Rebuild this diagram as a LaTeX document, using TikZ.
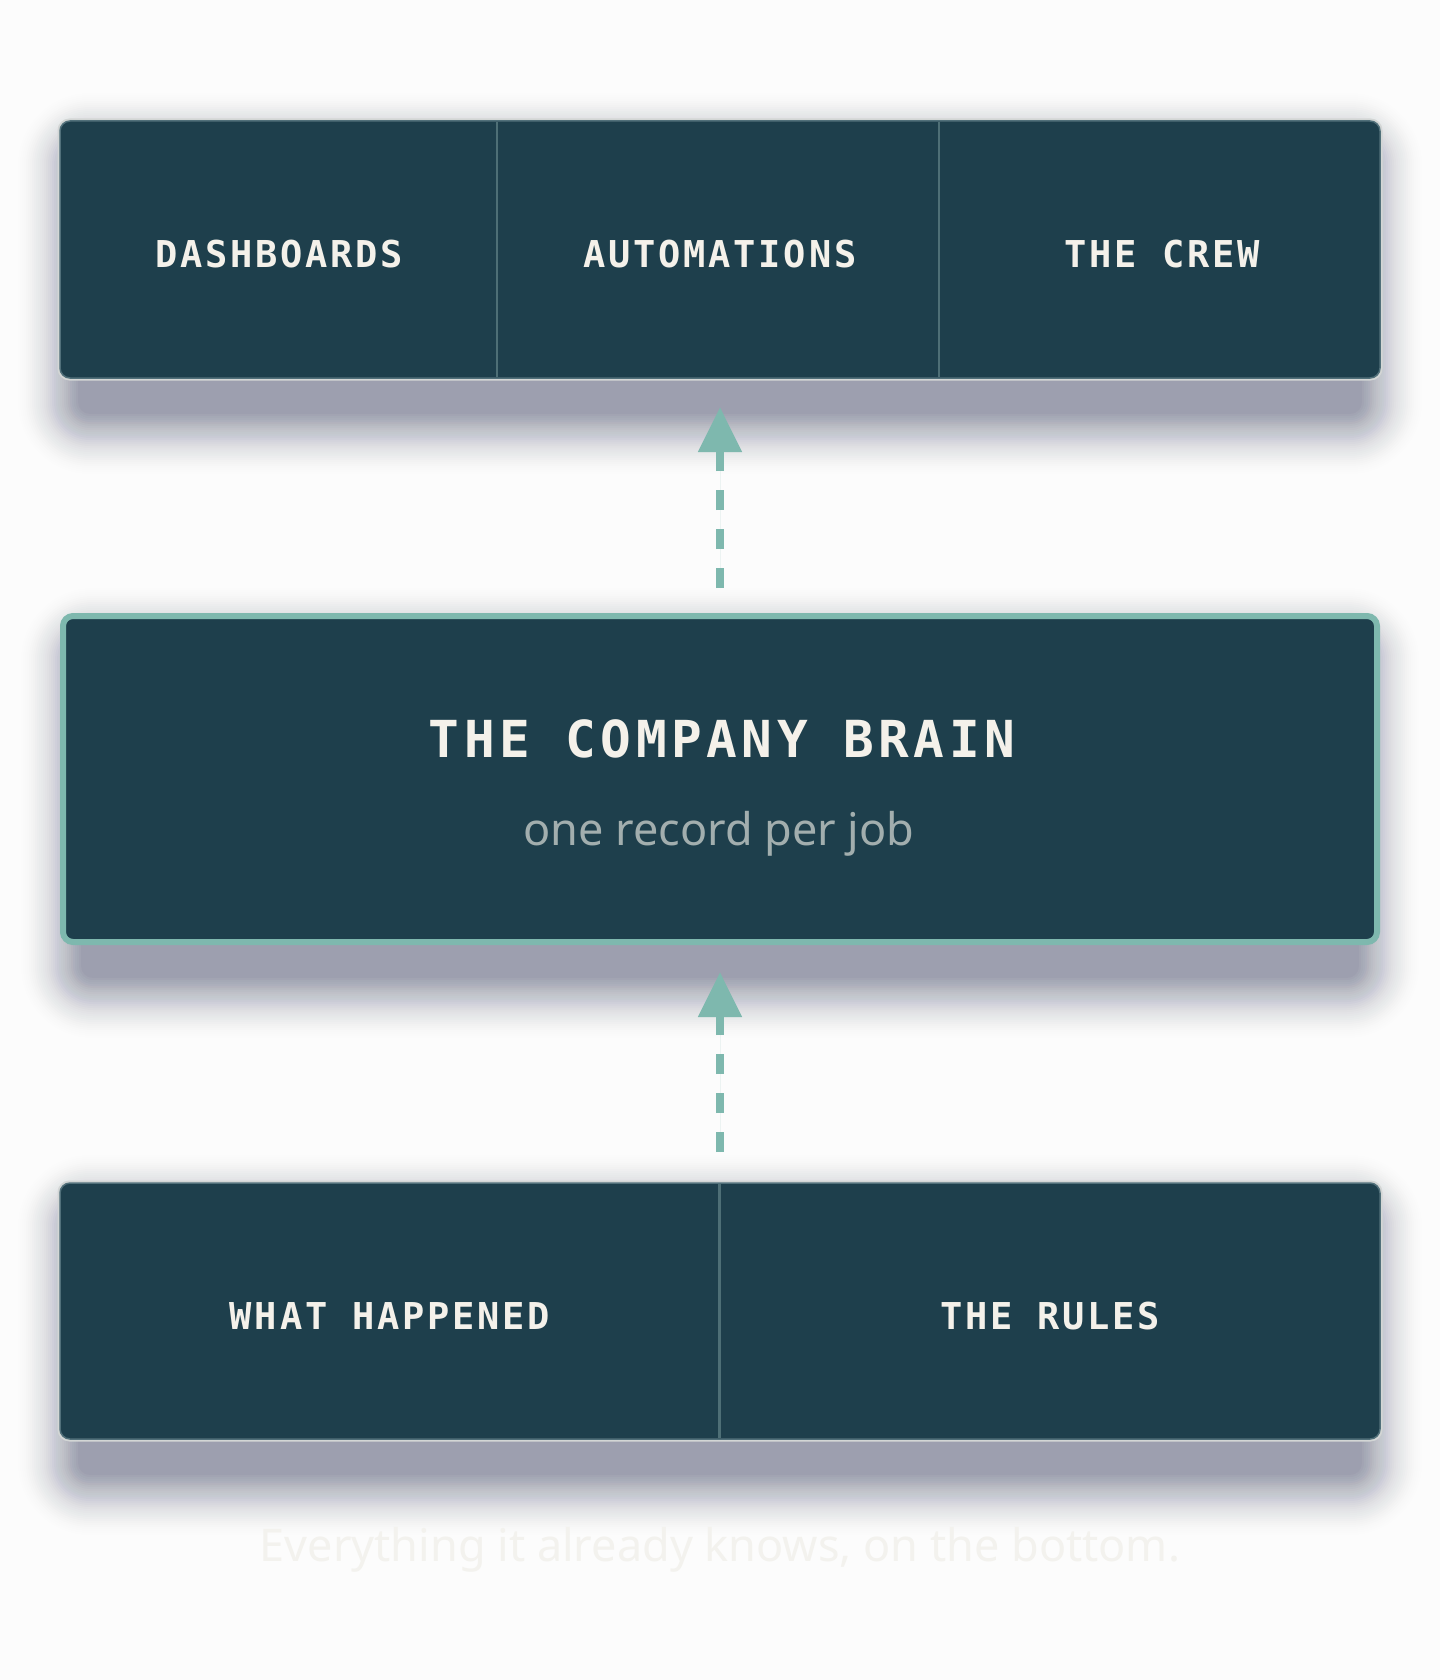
\documentclass[tikz,border=0pt]{standalone}
\usepackage{fontspec}
\usetikzlibrary{arrows.meta}
\newfontfamily\lblfont{DejaVu Sans Mono}[LetterSpace=7.5]
\newfontfamily\titlefont{DejaVu Sans Mono}[LetterSpace=9]
\newfontfamily\subfont{Noto Sans}
\definecolor{bgc}{HTML}{FCFCFC}
\definecolor{boxc}{HTML}{1E3F4C}
\definecolor{edgec}{HTML}{51707A}
\definecolor{divc}{HTML}{4E6F76}
\definecolor{tealc}{HTML}{7EB8AE}
\definecolor{creamc}{HTML}{F4F1EA}
\definecolor{subc}{HTML}{A2AEAE}
\definecolor{footc}{HTML}{F3F2EE}
\definecolor{shadc}{HTML}{4A5170}
\definecolor{rimc}{HTML}{D3D6D5}
\tikzset{
  panel/.style={fill=boxc, draw=edgec, line width=1.5pt, rounded corners=10pt, outer sep=0pt, inner sep=0pt},
  brainbox/.style={fill=boxc, draw=tealc, line width=6pt, rounded corners=10pt, outer sep=0pt, inner sep=0pt},
  lbl/.style={text=creamc, font=\lblfont\bfseries\fontsize{37}{40}\selectfont, anchor=base, inner sep=0pt},
  titlelbl/.style={text=creamc, font=\titlefont\bfseries\fontsize{51}{54}\selectfont, anchor=base, inner sep=0pt},
  sublbl/.style={text=subc, font=\subfont\fontsize{45}{50}\selectfont, anchor=base, inner sep=0pt},
  footlbl/.style={text=footc, font=\subfont\fontsize{45}{50}\selectfont, anchor=base, inner sep=0pt},
  divider/.style={draw=divc, line width=2.5pt},
  flow/.style={draw=tealc, fill=tealc, line width=8pt, dash pattern=on 20pt off 19pt,
    -{Triangle[length=45pt,width=42pt]}},
}
% soft shadow: base rectangle inset at the sides, shifted down,
% grown in layers whose opacity falls off outward
\newcommand\softshadow[1]{%
  \foreach \i in {1,...,32}{%
    \pgfmathsetmacro\s{\i*2}%
    \pgfmathsetmacro\op{0.038*(1-\i/33)}%
    \fill[shadc, opacity=\op, rounded corners=10pt+\s pt]
      ([shift={(20pt-\s pt,\s pt-34pt)}]#1.north west) rectangle ([shift={(\s pt-20pt,-\s pt-34pt)}]#1.south east);
  }%
}
\begin{document}
\begin{tikzpicture}[x=1pt,y=-1pt]
\useasboundingbox (0,0) rectangle (1440,1680);
\fill[bgc] (0,0) rectangle (1440,1680);

% box geometry (invisible, for the shadows)
\path (720,249.5) node[panel, minimum width=1320pt, minimum height=257pt, draw=none, fill=none] (top) {};
\path (720,779) node[brainbox, minimum width=1314pt, minimum height=326pt, draw=none, fill=none] (mid) {};
\path (720,1311) node[panel, minimum width=1320pt, minimum height=256pt, draw=none, fill=none] (bot) {};

% shadows
\softshadow{top}
\softshadow{mid}
\softshadow{bot}

% rims
\draw[rimc, line width=2pt, rounded corners=11pt] ([shift={(-1.5pt,1.5pt)}]top.north west) rectangle ([shift={(1.5pt,-1.5pt)}]top.south east);
\draw[rimc, line width=2pt, rounded corners=11pt] ([shift={(-1.5pt,1.5pt)}]bot.north west) rectangle ([shift={(1.5pt,-1.5pt)}]bot.south east);

% boxes
\node[panel, minimum width=1320pt, minimum height=257pt] (topbox) at (720,249.5) {};
\node[brainbox, minimum width=1314pt, minimum height=326pt] (midbox) at (720,779) {};
\node[panel, minimum width=1320pt, minimum height=256pt] (botbox) at (720,1311) {};

% dividers
\coordinate (d1) at (497,0);
\coordinate (d2) at (939,0);
\coordinate (d3) at (719.5,0);
\draw[divider] ([yshift=-0.75pt]topbox.north -| d1) -- ([yshift=0.75pt]topbox.south -| d1);
\draw[divider] ([yshift=-0.75pt]topbox.north -| d2) -- ([yshift=0.75pt]topbox.south -| d2);
\draw[divider] ([yshift=-0.75pt]botbox.north -| d3) -- ([yshift=0.75pt]botbox.south -| d3);

% labels
\node[lbl] (dash) at (279,267) {DASHBOARDS};
\node[lbl] (auto) at (720,267) {AUTOMATIONS};
\node[lbl] (crew) at (1162,267) {THE CREW};
\node[titlelbl] (title) at (722,757) {THE COMPANY BRAIN};
\node[sublbl] (sub) at (719,845) {one record per job};
\node[lbl] (what) at (390,1329) {WHAT HAPPENED};
\node[lbl] (rules) at (1050,1329) {THE RULES};
\node[footlbl] (foot) at (720,1561) {Everything it already knows, on the bottom.};

% connectors
\draw[flow] ([yshift=28pt]midbox.north) -- ([yshift=-29pt]topbox.south);
\draw[flow] ([yshift=31pt]botbox.north) -- ([yshift=-30pt]midbox.south);
\end{tikzpicture}
\end{document}
